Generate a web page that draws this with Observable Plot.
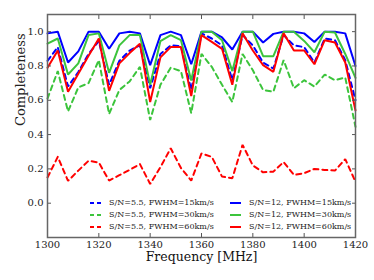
<!DOCTYPE html>
<html><head><meta charset="utf-8">
<script src="https://cdn.jsdelivr.net/npm/d3@7"></script>
<script src="https://cdn.jsdelivr.net/npm/@observablehq/plot@0.6"></script>
<style>
body{margin:0;background:#fff;}
#wrap{position:relative;width:374px;height:280px;font-family:"DejaVu Serif",serif;}
.leg{position:absolute;font-size:8px;line-height:12px;color:#222;white-space:nowrap;}
.leg div{height:12px;display:flex;align-items:center;}
.leg svg{margin-right:8px;}
</style></head><body><div id="wrap"></div>
<script>
const freqs = [1300,1304,1308,1312,1316,1320,1324,1328,1332,1336,1340,1344,1348,1352,1356,1360,1364,1368,1372,1376,1380,1384,1388,1392,1396,1400,1404,1408,1412,1416,1420];
const sn55_fwhm15 = [0.83,0.91,0.68,0.765,0.87,0.945,0.69,0.83,0.89,0.92,0.67,0.87,0.92,0.915,0.66,0.99,0.96,0.92,0.717,0.98,0.92,0.82,0.785,0.98,0.92,0.91,0.82,0.96,0.95,0.834,0.60];
const sn55_fwhm30 = [0.61,0.77,0.535,0.675,0.70,0.834,0.52,0.66,0.71,0.795,0.485,0.69,0.79,0.77,0.525,0.87,0.795,0.69,0.59,0.87,0.775,0.66,0.65,0.834,0.67,0.717,0.68,0.75,0.717,0.733,0.445];
const sn55_fwhm60 = [0.15,0.27,0.13,0.19,0.247,0.237,0.132,0.163,0.194,0.228,0.112,0.21,0.32,0.205,0.132,0.29,0.27,0.155,0.145,0.34,0.22,0.18,0.184,0.24,0.165,0.175,0.20,0.194,0.19,0.257,0.125];
const sn12_fwhm15 = [0.99,1.0,0.82,0.885,1.0,1.0,0.90,0.99,1.0,0.99,0.805,0.98,1.0,0.98,0.81,1.0,1.0,0.966,0.896,1.0,1.0,0.937,0.987,1.0,1.0,0.99,0.94,1.0,1.0,0.99,0.80];
const sn12_fwhm30 = [0.93,0.96,0.75,0.815,0.98,0.99,0.76,0.92,0.98,0.98,0.69,0.945,0.98,0.95,0.715,1.0,1.0,0.95,0.77,1.0,1.0,0.857,0.857,1.0,1.0,0.946,0.88,1.0,0.995,0.87,0.73];
const sn12_fwhm60 = [0.79,0.89,0.65,0.755,0.86,0.96,0.655,0.815,0.875,0.93,0.59,0.85,0.91,0.91,0.625,0.98,0.94,0.90,0.69,0.99,0.89,0.805,0.766,0.99,0.89,0.89,0.81,0.95,0.937,0.82,0.54];
const seriesLabels = ["S/N=5.5, FWHM=15km/s","S/N=5.5, FWHM=30km/s","S/N=5.5, FWHM=60km/s","S/N=12, FWHM=15km/s","S/N=12, FWHM=30km/s","S/N=12, FWHM=60km/s"];
const xTicks = [1300,1320,1340,1360,1380,1400,1420];
const yTicks = [0.0,0.2,0.4,0.6,0.8,1.0];

const seriesValues = [sn55_fwhm15, sn55_fwhm30, sn55_fwhm60, sn12_fwhm15, sn12_fwhm30, sn12_fwhm60];
const colors = ["#0000ff","#3cc43c","#ff0000","#0000ff","#3cc43c","#ff0000"];
const dashed = [true,true,true,false,false,false];
const DASH = "5,4";

const lineMarks = seriesValues.map((vals, k) => Plot.line(
  freqs.map((f, i) => ({freq: f, value: vals[i]})),
  {x: "freq", y: "value", stroke: colors[k], strokeWidth: 2, strokeDasharray: dashed[k] ? DASH : null, strokeLinejoin: "miter"}
));

const axisStyle = {stroke: "#555", fontSize: 10, tickSize: -4};
const chart = Plot.plot({
  width: 374, height: 280,
  marginLeft: 47, marginRight: 19, marginTop: 14, marginBottom: 43,
  style: {fontFamily: "DejaVu Serif", background: "#fff", color: "#222"},
  x: {domain: [1300, 1420]},
  y: {domain: [-0.2, 1.1]},
  marks: [
    ...lineMarks,
    Plot.axisX({...axisStyle, anchor: "bottom", ticks: xTicks, tickFormat: d => String(d), tickPadding: 7, label: null}),
    Plot.axisX({...axisStyle, anchor: "top", ticks: xTicks, tickFormat: () => "", label: null}),
    Plot.axisY({...axisStyle, anchor: "left", ticks: yTicks, tickFormat: d3.format(".1f"), tickPadding: 8, label: null}),
    Plot.axisY({...axisStyle, anchor: "right", ticks: yTicks, tickFormat: () => "", label: null}),
    Plot.frame({stroke: "#666", strokeWidth: 1.5}),
    Plot.text(["Frequency [MHz]"], {frameAnchor: "bottom", dy: 23, fontSize: 12.5, fill: "#111"}),
    Plot.text(["Completeness"], {frameAnchor: "left", dx: -27, rotate: -90, fontSize: 13, fill: "#222"})
  ]
});
const wrap = document.getElementById("wrap");
wrap.appendChild(chart);

// legend (inside the axes, two columns)
const cols = [{left: 90, idx: [0,1,2]}, {left: 230, idx: [3,4,5]}];
cols.forEach(c => {
  const div = document.createElement("div");
  div.className = "leg";
  div.style.left = c.left + "px";
  div.style.top = "197px";
  c.idx.forEach(k => {
    const row = document.createElement("div");
    row.innerHTML = `<svg width="11" height="6"><line x1="0" y1="3" x2="11" y2="3" stroke="${colors[k]}" stroke-width="2" ${dashed[k] ? 'stroke-dasharray="4,3"' : ''}/></svg><span>${seriesLabels[k]}</span>`;
    div.appendChild(row);
  });
  wrap.appendChild(div);
});
</script></body></html>
